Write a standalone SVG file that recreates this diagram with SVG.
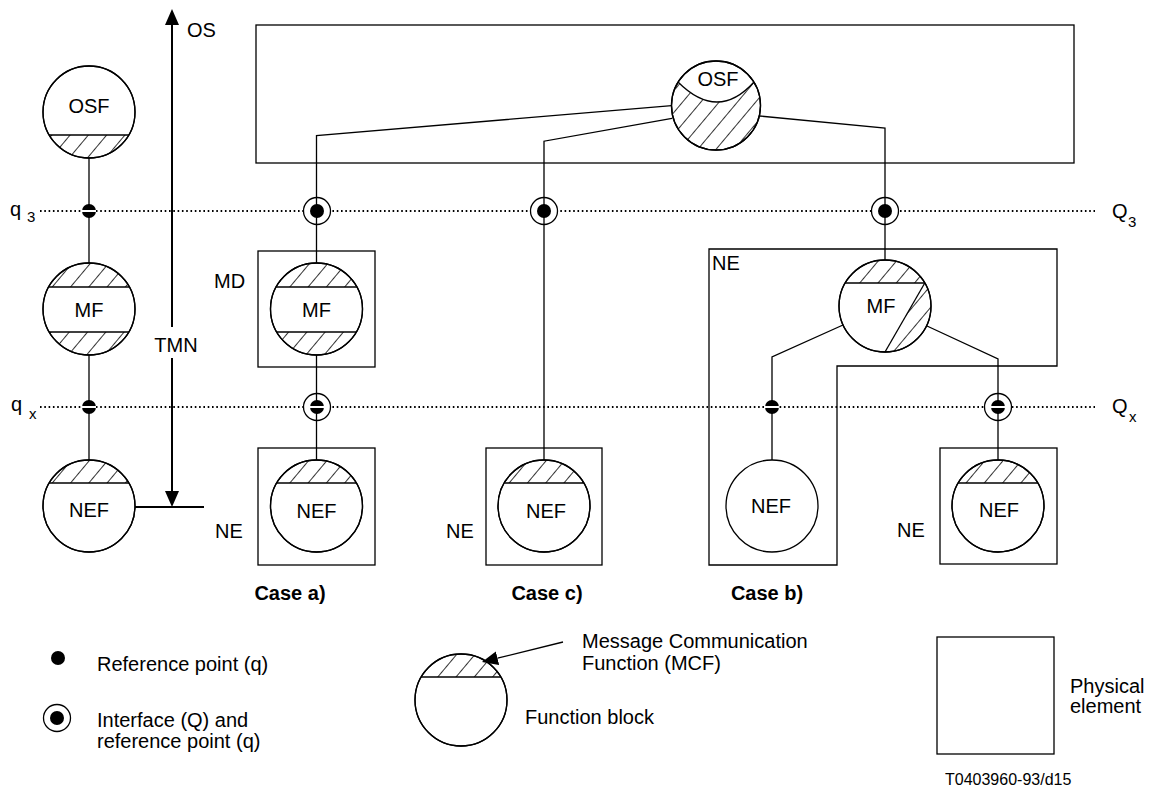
<svg xmlns="http://www.w3.org/2000/svg" width="1150" height="787" viewBox="0 0 1150 787">
<style>
.t{font-family:"Liberation Sans",Arial,sans-serif;font-size:20px;fill:#000}
.tb{font-family:"Liberation Sans",Arial,sans-serif;font-size:20px;font-weight:bold;fill:#000}
.sub{font-size:15px}
.ln{stroke:#000;stroke-width:1.3;fill:none}
.fb{fill:#fff;stroke:#000;stroke-width:1.3}
.pe{fill:none;stroke:#000;stroke-width:1.3}
.ht{fill:url(#hatch);stroke:none}
.dl{stroke:#000;stroke-width:2;stroke-dasharray:1.6 2.7;fill:none}
.ax{stroke:#000;stroke-width:2;fill:none}
.dot{fill:#000}
.ifc{fill:#fff;stroke:#000;stroke-width:1.3}
.stripe{stroke:#fff;stroke-width:2}
</style>
<defs>
<pattern id="hatch" patternUnits="userSpaceOnUse" width="14" height="14" patternTransform="rotate(40)">
<line x1="0" y1="0" x2="0" y2="14" stroke="#000" stroke-width="1.6"/>
</pattern>
<marker id="ah" markerUnits="userSpaceOnUse" markerWidth="16" markerHeight="14" viewBox="0 0 16 14" refX="0" refY="7" orient="auto">
<path d="M0,0 L16,7 L0,14 Z" fill="#000"/>
</marker>
</defs>
<rect width="1150" height="787" fill="#fff"/>

<!-- reference lines -->
<g id="reflines">
<line class="dl" x1="40" y1="211" x2="1095" y2="211"/>
<line class="dl" x1="40" y1="407" x2="1095" y2="407"/>
<text class="t" x="10" y="216">q<tspan class="sub" x="27" y="222">3</tspan></text>
<text class="t" x="11" y="411">q<tspan class="sub" x="29" y="419">x</tspan></text>
<text class="t" x="1112" y="218">Q<tspan class="sub" x="1128" y="227">3</tspan></text>
<text class="t" x="1112" y="413">Q<tspan class="sub" x="1129" y="422">x</tspan></text>
</g>

<!-- TMN axis -->
<g id="axis">
<line class="ax" x1="172" y1="327" x2="172" y2="25" marker-end="url(#ah)"/>
<line class="ax" x1="172" y1="358" x2="172" y2="491" marker-end="url(#ah)"/>
<line class="ax" x1="134" y1="507" x2="204" y2="507"/>
<text class="t" x="187" y="37">OS</text>
<text class="t" x="176" y="352" text-anchor="middle">TMN</text>
</g>

<!-- physical elements -->
<g id="os-box"><rect class="pe" x="256" y="25" width="818" height="138"/></g>
<g id="md-box"><rect class="pe" x="258" y="251" width="117" height="116"/><text class="t" x="214" y="288">MD</text></g>
<g id="ne-a-box"><rect class="pe" x="258" y="448" width="117" height="117"/><text class="t" x="215" y="538">NE</text></g>
<g id="ne-c-box"><rect class="pe" x="486" y="448" width="116" height="117"/><text class="t" x="446" y="538">NE</text></g>
<g id="ne-b-box"><path class="pe" d="M709,249 H1057 V366 H837 V565 H709 Z"/><text class="t" x="712" y="270">NE</text></g>
<g id="ne-r-box"><rect class="pe" x="940" y="448" width="117" height="116"/><text class="t" x="897" y="537">NE</text></g>

<!-- interface circles -->
<g id="interfaces">
<circle class="ifc" cx="317" cy="211" r="13.5"/>
<circle class="ifc" cx="544" cy="211" r="13.5"/>
<circle class="ifc" cx="885" cy="211" r="13.5"/>
<circle class="ifc" cx="317" cy="407" r="13.5"/>
<circle class="ifc" cx="998" cy="407" r="13.5"/>
</g>

<!-- connectors -->
<g id="connectors">
<line class="ln" x1="89" y1="158" x2="89" y2="263"/>
<line class="ln" x1="89" y1="355" x2="89" y2="460"/>
<polyline class="ln" points="671.7,105.7 316.5,135.5 316.5,263"/>
<line class="ln" x1="316.5" y1="355" x2="316.5" y2="460"/>
<polyline class="ln" points="672,118.3 544,141.2 544,460"/>
<polyline class="ln" points="759.5,116 885,128 885,260"/>
<polyline class="ln" points="843,325 772,357 772,460"/>
<polyline class="ln" points="927,326 998,359 998,460"/>
</g>

<!-- reference point dots -->
<g id="points">
<circle class="dot" cx="317" cy="211" r="7"/>
<circle class="dot" cx="544" cy="211" r="7"/>
<circle class="dot" cx="885" cy="211" r="7"/>
<circle class="dot" cx="89" cy="211" r="7"/>
<circle class="dot" cx="89" cy="407" r="7"/>
<circle class="dot" cx="317" cy="407" r="7"/>
<circle class="dot" cx="772" cy="407" r="7"/>
<circle class="dot" cx="998" cy="407" r="7"/>
<line class="stripe" x1="82" y1="211" x2="96" y2="211"/>
<line class="stripe" x1="82" y1="407" x2="96" y2="407"/>
<line class="stripe" x1="310" y1="407" x2="324" y2="407"/>
<line class="stripe" x1="765" y1="407" x2="779" y2="407"/>
<line class="stripe" x1="991" y1="407" x2="1005" y2="407"/>
</g>

<!-- function blocks -->
<g id="osf-left">
<circle class="fb" cx="89" cy="112" r="46"/>
<path class="ht" d="M128.8,135 A46 46 0 0 1 49.2,135 Z"/>
<line class="ln" x1="49.2" y1="135" x2="128.8" y2="135"/>
<circle class="pe" cx="89" cy="112" r="46"/>
<text class="t" x="89" y="113" text-anchor="middle">OSF</text>
</g>
<g id="mf-left">
<circle class="fb" cx="89" cy="309" r="46"/>
<path class="ht" d="M48.6,287 A46 46 0 0 1 129.4,287 Z"/>
<path class="ht" d="M128.8,332 A46 46 0 0 1 49.2,332 Z"/>
<line class="ln" x1="48.6" y1="287" x2="129.4" y2="287"/>
<line class="ln" x1="49.2" y1="332" x2="128.8" y2="332"/>
<circle class="pe" cx="89" cy="309" r="46"/>
<text class="t" x="89" y="317" text-anchor="middle">MF</text>
</g>
<g id="nef-left">
<circle class="fb" cx="89" cy="506" r="46"/>
<path class="ht" d="M49.2,483 A46 46 0 0 1 128.8,483 Z"/>
<line class="ln" x1="49.2" y1="483" x2="128.8" y2="483"/>
<circle class="pe" cx="89" cy="506" r="46"/>
<text class="t" x="89" y="517" text-anchor="middle">NEF</text>
</g>
<g id="osf-top">
<circle class="fb" cx="716" cy="105.5" r="44.5"/>
<path class="ht" d="M678,82 Q718,122 754,82 A44.5 44.5 0 1 1 678,82 Z"/>
<path class="ln" d="M678,82 Q718,122 754,82"/>
<circle class="pe" cx="716" cy="105.5" r="44.5"/>
<text class="t" x="718" y="86" text-anchor="middle">OSF</text>
</g>
<g id="mf-a">
<circle class="fb" cx="316.5" cy="309" r="46"/>
<path class="ht" d="M276.1,287 A46 46 0 0 1 356.9,287 Z"/>
<path class="ht" d="M356.3,332 A46 46 0 0 1 276.7,332 Z"/>
<line class="ln" x1="276.1" y1="287" x2="356.9" y2="287"/>
<line class="ln" x1="276.7" y1="332" x2="356.3" y2="332"/>
<circle class="pe" cx="316.5" cy="309" r="46"/>
<text class="t" x="316.5" y="317" text-anchor="middle">MF</text>
</g>
<g id="nef-a">
<circle class="fb" cx="316.5" cy="506" r="46"/>
<path class="ht" d="M276.7,483 A46 46 0 0 1 356.3,483 Z"/>
<line class="ln" x1="276.7" y1="483" x2="356.3" y2="483"/>
<circle class="pe" cx="316.5" cy="506" r="46"/>
<text class="t" x="316.5" y="518" text-anchor="middle">NEF</text>
</g>
<g id="nef-c">
<circle class="fb" cx="544" cy="506" r="46"/>
<path class="ht" d="M504.2,483 A46 46 0 0 1 583.8,483 Z"/>
<line class="ln" x1="504.2" y1="483" x2="583.8" y2="483"/>
<circle class="pe" cx="544" cy="506" r="46"/>
<text class="t" x="546" y="518" text-anchor="middle">NEF</text>
</g>
<g id="mf-b">
<circle class="fb" cx="885" cy="306" r="46"/>
<path class="ht" d="M845.2,283 A46 46 0 0 1 924.8,283 Z"/>
<path class="ht" d="M924.8,283 L885,352 A46 46 0 0 0 924.8,283 Z"/>
<line class="ln" x1="845.2" y1="283" x2="924.8" y2="283"/>
<line class="ln" x1="924.8" y1="283" x2="885" y2="352"/>
<circle class="pe" cx="885" cy="306" r="46"/>
<text class="t" x="881" y="313" text-anchor="middle">MF</text>
</g>
<g id="nef-b">
<circle class="fb" cx="772" cy="506" r="46"/>
<text class="t" x="771" y="513" text-anchor="middle">NEF</text>
</g>
<g id="nef-r">
<circle class="fb" cx="998" cy="506" r="46"/>
<path class="ht" d="M958.2,483 A46 46 0 0 1 1037.8,483 Z"/>
<line class="ln" x1="958.2" y1="483" x2="1037.8" y2="483"/>
<circle class="pe" cx="998" cy="506" r="46"/>
<text class="t" x="999" y="517" text-anchor="middle">NEF</text>
</g>

<!-- case labels -->
<g id="cases">
<text class="tb" x="290" y="600" text-anchor="middle">Case a)</text>
<text class="tb" x="547" y="600" text-anchor="middle">Case c)</text>
<text class="tb" x="767" y="600" text-anchor="middle">Case b)</text>
</g>

<!-- legend -->
<g id="legend-ref">
<circle class="dot" cx="58" cy="658" r="7"/>
<text class="t" x="97" y="671">Reference point (q)</text>
</g>
<g id="legend-ifc">
<circle class="ifc" cx="57" cy="718" r="13.5"/>
<circle class="dot" cx="57" cy="718" r="7"/>
<text class="t" x="97" y="727">Interface (Q) and</text>
<text class="t" x="97" y="748">reference point (q)</text>
</g>
<g id="legend-fb">
<circle class="fb" cx="461" cy="700" r="46"/>
<path class="ht" d="M421.2,677 A46 46 0 0 1 500.8,677 Z"/>
<line class="ln" x1="421.2" y1="677" x2="500.8" y2="677"/>
<circle class="pe" cx="461" cy="700" r="46"/>
<line class="ln" x1="563" y1="642" x2="497.5" y2="658.2" marker-end="url(#ah)"/>
<text class="t" x="582" y="648">Message Communication</text>
<text class="t" x="582" y="670">Function (MCF)</text>
<text class="t" x="525" y="724">Function block</text>
</g>
<g id="legend-pe">
<rect class="pe" x="937" y="637" width="117" height="117"/>
<text class="t" x="1070" y="693">Physical</text>
<text class="t" x="1070" y="713">element</text>
</g>
<text class="t" x="945" y="785" style="font-size:16px">T0403960-93/d15</text>
</svg>
